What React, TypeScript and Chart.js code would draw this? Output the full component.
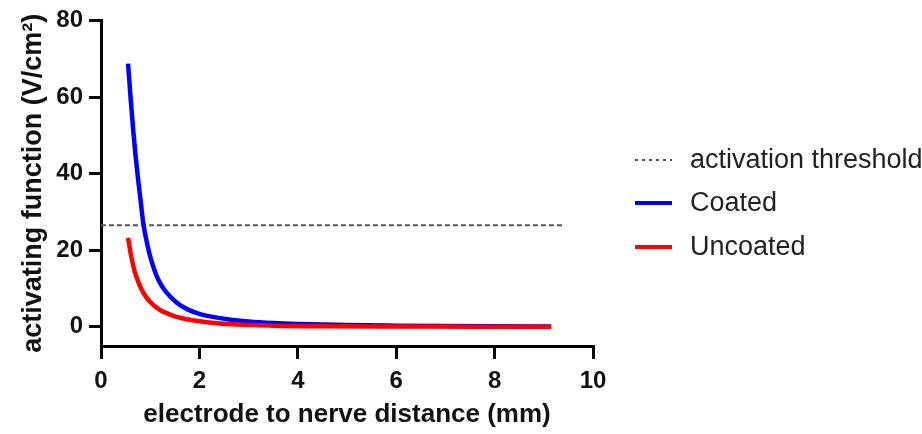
import React, { useEffect, useRef } from "react";
import { Chart, registerables } from "chart.js";

Chart.register(...registerables);

// Distance (mm) and activating function (V/cm²)
const coatedX = [0.55, 0.6, 0.65, 0.7, 0.75, 0.8, 0.86, 0.95, 1.03, 1.13, 1.23, 1.33, 1.54, 1.77, 2.0, 2.27, 2.68, 3.0, 3.5, 4.0, 5.0, 6.0, 7.0, 8.0, 9.15];
const coatedY = [68.7, 60, 52, 45, 39, 33.5, 27, 21, 17, 13.3, 10.8, 9, 6.3, 4.5, 3.4, 2.6, 1.8, 1.4, 1.0, 0.75, 0.45, 0.3, 0.2, 0.14, 0.1];

const uncoatedX = [0.55, 0.62, 0.69, 0.78, 0.86, 0.99, 1.2, 1.54, 1.74, 2.0, 2.35, 2.68, 3.0, 3.5, 4.5, 6.0, 7.5, 9.15];
const uncoatedY = [23.2, 18, 14.2, 11, 8.9, 6.6, 4.4, 2.6, 2.0, 1.45, 0.95, 0.65, 0.5, 0.3, 0.15, 0.08, 0.05, 0.03];

const thresholdX = [0, 9.4];
const thresholdValue = 26.5;

const xTicks = [0, 2, 4, 6, 8, 10];
const yTicks = [0, 20, 40, 60, 80];

const legendLabels = ["activation threshold", "Coated", "Uncoated"];

const FONT = "'Liberation Sans', Arial, sans-serif";

const toPoints = (xs: number[], ys: number[]) => xs.map((x, i) => ({ x, y: ys[i] }));

const legendPlugin = {
  id: "customLegend",
  afterDraw(chart: any) {
    const ctx = chart.ctx;
    const rows = [160, 203, 247];
    const items = [
      { color: "#555555", dash: [3, 4], width: 2 },
      { color: "#0000ff", dash: [], width: 4 },
      { color: "#ff0000", dash: [], width: 4 },
    ];
    ctx.save();
    items.forEach((it, i) => {
      ctx.beginPath();
      ctx.setLineDash(it.dash);
      ctx.strokeStyle = it.color;
      ctx.lineWidth = it.width;
      ctx.moveTo(635, rows[i]);
      ctx.lineTo(672, rows[i]);
      ctx.stroke();
      ctx.setLineDash([]);
      ctx.fillStyle = "#222222";
      ctx.font = `27px ${FONT}`;
      ctx.textBaseline = "middle";
      ctx.textAlign = "left";
      ctx.fillText(legendLabels[i], 690, rows[i] + 1);
    });
    ctx.restore();
  },
};

export default function App() {
  const ref = useRef<HTMLCanvasElement>(null);

  useEffect(() => {
    if (!ref.current) return;
    const chart = new Chart(ref.current, {
      type: "scatter",
      data: {
        datasets: [
          {
            label: legendLabels[0],
            data: thresholdX.map((x) => ({ x, y: thresholdValue })),
            showLine: true,
            borderColor: "#555555",
            borderWidth: 2,
            borderDash: [5, 3],
            pointRadius: 0,
            order: 2,
          },
          {
            label: legendLabels[1],
            data: toPoints(coatedX, coatedY),
            showLine: true,
            borderColor: "#0000ff",
            borderWidth: 4.5,
            pointRadius: 0,
            cubicInterpolationMode: "monotone",
            order: 1,
          },
          {
            label: legendLabels[2],
            data: toPoints(uncoatedX, uncoatedY),
            showLine: true,
            borderColor: "#ff0000",
            borderWidth: 4.5,
            pointRadius: 0,
            cubicInterpolationMode: "monotone",
            order: 0,
          },
        ],
      },
      options: {
        responsive: false,
        animation: false,
        layout: { padding: { left: 0, right: 329, top: 16, bottom: 0 } },
        plugins: { legend: { display: false }, tooltip: { enabled: false } },
        scales: {
          x: {
            type: "linear",
            min: 0,
            max: 10,
            afterFit: (s: any) => {
              s.height = 88;
            },
            afterBuildTicks: (s: any) => {
              s.ticks = xTicks.map((v) => ({ value: v }));
            },
            border: { display: true, color: "#000000", width: 3 },
            grid: { drawOnChartArea: false, drawTicks: true, tickLength: 13, color: "#000000", lineWidth: 3 },
            ticks: { color: "#111111", padding: 8, font: { family: FONT, size: 24, weight: "bold" } },
            title: {
              display: true,
              text: "electrode to nerve distance (mm)",
              color: "#111111",
              font: { family: FONT, size: 26, weight: "bold" },
              padding: { top: 0, bottom: 4 },
            },
          },
          y: {
            type: "linear",
            min: -5,
            max: 80,
            afterFit: (s: any) => {
              s.width = 101;
            },
            afterBuildTicks: (s: any) => {
              s.ticks = yTicks.map((v) => ({ value: v }));
            },
            border: { display: true, color: "#000000", width: 3 },
            grid: { drawOnChartArea: false, drawTicks: true, tickLength: 12, color: "#000000", lineWidth: 3 },
            ticks: { color: "#111111", padding: 6, font: { family: FONT, size: 24, weight: "bold" } },
            title: {
              display: true,
              text: "activating function (V/cm²)",
              color: "#111111",
              font: { family: FONT, size: 27, weight: "bold" },
              padding: { top: 17, bottom: 0 },
            },
          },
        },
      },
      plugins: [legendPlugin],
    } as any);
    return () => chart.destroy();
  }, []);

  return (
    <div style={{ position: "absolute", left: 0, top: 0, width: 922, height: 434, background: "#ffffff" }}>
      <canvas ref={ref} width={922} height={434} style={{ display: "block" }} />
    </div>
  );
}
